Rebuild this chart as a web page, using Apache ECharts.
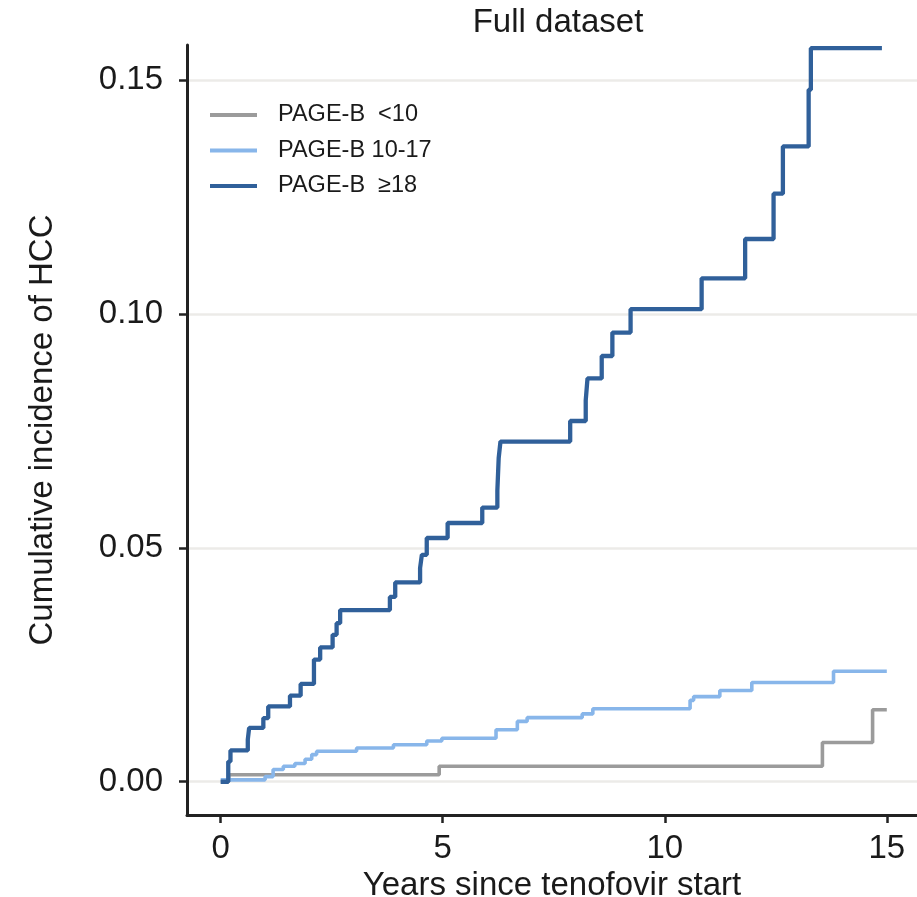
<!DOCTYPE html>
<html>
<head>
<meta charset="utf-8">
<script src="https://cdn.jsdelivr.net/npm/echarts@6/dist/echarts.min.js"></script>
<style>
html,body{margin:0;padding:0;background:#fff;}
#chart{width:917px;height:897px;}
</style>
</head>
<body>
<div id="chart"></div>
<script>
// ---- data ----
var seriesNames = ['PAGE-B  <10', 'PAGE-B 10-17', 'PAGE-B  \u226518'];

var lowTimes   = [0, 0.18, 4.92, 13.55, 14.68, 15.0];
var lowValues  = [0, 0.0015, 0.0033, 0.0084, 0.0154, 0.0154];

var midTimes   = [0, 1.0, 1.18, 1.41, 1.67, 1.9, 2.05, 2.16, 3.06, 3.89, 4.64, 4.98, 6.2, 6.68, 6.9, 8.14, 8.38, 10.57, 10.65, 11.24, 11.96, 13.8, 15.0];
var midValues  = [0.0004, 0.0011, 0.0026, 0.0033, 0.0039, 0.0048, 0.0058, 0.0065, 0.0072, 0.0079, 0.0087, 0.0093, 0.0111, 0.0129, 0.0137, 0.0145, 0.0156, 0.0174, 0.0182, 0.0195, 0.0212, 0.0236, 0.0236];

var highTimes  = [0, 0.17, 0.22, 0.61, 0.64, 0.96, 1.07, 1.56, 1.8, 2.1, 2.24, 2.52, 2.61, 2.69, 3.81, 3.93, 4.49, 4.53, 4.64, 5.11, 5.89, 6.23, 6.26, 6.3, 7.87, 8.22, 8.26, 8.58, 8.82, 9.23, 10.83, 11.81, 12.45, 12.66, 13.24, 13.29, 14.89];
var highValues = [0, 0.0043, 0.0067, 0.009, 0.0115, 0.0136, 0.0161, 0.0184, 0.0209, 0.0261, 0.0287, 0.0314, 0.0339, 0.0367, 0.0395, 0.0426, 0.0457, 0.0485, 0.0521, 0.0553, 0.0586, 0.0622, 0.0692, 0.0727, 0.0771, 0.0815, 0.0862, 0.091, 0.096, 0.101, 0.1076, 0.116, 0.1257, 0.1358, 0.1479, 0.1568, 0.1568];

var xTicks = [0, 5, 10, 15];
var yTicks = [0, 0.05, 0.10, 0.15];

var titleText = 'Full dataset';
var xTitle = 'Years since tenofovir start';
var yTitle = 'Cumulative incidence of HCC';

// ---- build ----
function pairs(t, v) { return t.map(function (x, i) { return [x, v[i]]; }); }

var FONT = 'Liberation Sans, Arial, Helvetica, sans-serif';
var TXT = '#1a1a1a';
var AX = '#222222';
var colors = ['#9B9B9B', '#88B6EA', '#30609A'];
var widths = [3.6, 3.6, 4.3];
var datasets = [pairs(lowTimes, lowValues), pairs(midTimes, midValues), pairs(highTimes, highValues)];

var chart = echarts.init(document.getElementById('chart'), null, {renderer: 'canvas'});
chart.setOption({
  animation: false,
  backgroundColor: '#ffffff',
  textStyle: {fontFamily: FONT},
  title: {
    text: titleText,
    left: 553, top: 1, textAlign: 'center',
    textStyle: {fontFamily: FONT, fontSize: 33, fontWeight: 'normal', color: TXT}
  },
  legend: {
    orient: 'vertical',
    left: 205, top: 98,
    icon: 'rect',
    itemWidth: 47, itemHeight: 4,
    itemGap: 11.5,
    data: seriesNames,
    textStyle: {fontFamily: FONT, fontSize: 23.5, color: TXT, lineHeight: 22, padding: [0, 0, 0, 16]}
  },
  grid: {left: 187, right: 0, top: 45, bottom: 82, containLabel: false, outerBoundsMode: 'none'},
  xAxis: {
    type: 'value',
    min: -0.759, max: 15.68,
    name: xTitle, nameLocation: 'middle', nameGap: 50,
    nameTextStyle: {fontFamily: FONT, fontSize: 33, color: TXT},
    axisLine: {show: true, onZero: false, lineStyle: {color: AX, width: 3}},
    axisTick: {show: true, customValues: xTicks, length: 8, lineStyle: {color: AX, width: 2.5}},
    axisLabel: {customValues: xTicks, margin: 17, fontFamily: FONT, fontSize: 33, color: TXT},
    splitLine: {show: false}
  },
  yAxis: {
    type: 'value',
    min: -0.00711, max: 0.15747,
    name: yTitle, nameLocation: 'middle', nameGap: 128, nameRotate: 90,
    nameTextStyle: {fontFamily: FONT, fontSize: 33, color: TXT},
    axisLine: {show: true, onZero: false, lineStyle: {color: AX, width: 3}},
    axisTick: {show: true, customValues: yTicks, length: 8, lineStyle: {color: AX, width: 2.5}},
    axisLabel: {customValues: yTicks, margin: 24, fontFamily: FONT, fontSize: 33, color: TXT,
      formatter: function (v) { return v.toFixed(2); }},
    splitLine: {show: true, lineStyle: {color: '#ECEBE8', width: 2.5}}
  },
  series: datasets.map(function (d, i) {
    return {
      name: seriesNames[i],
      type: 'line',
      step: 'end',
      data: d,
      showSymbol: false,
      symbol: 'none',
      z: 2 + i,
      itemStyle: {color: colors[i]},
      lineStyle: {color: colors[i], width: widths[i]}
    };
  })
});
</script>
</body>
</html>
